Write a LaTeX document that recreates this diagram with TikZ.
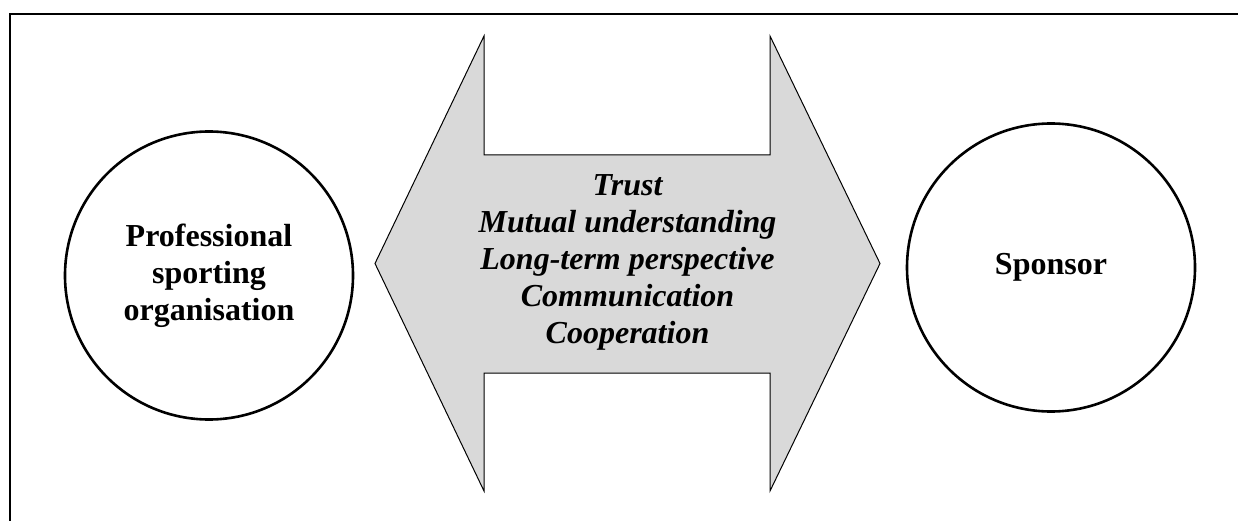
\documentclass[tikz,border=0pt]{standalone}
\usepackage{fontspec}
\setmainfont{Liberation Serif}
\usetikzlibrary{calc}

\begin{document}
\begin{tikzpicture}[x=1pt, y=-1pt,
        party/.style={draw, circle, line width=2.6pt, minimum size=288pt, inner sep=0pt, align=center,
            font=\fontsize{32}{37}\selectfont\bfseries},
        value_arrow/.style={draw, line width=1pt, line join=miter, fill=gray!30},
        value_text/.style={align=center, font=\fontsize{32}{36.8}\selectfont\bfseries\itshape}]

        \useasboundingbox (0,0) rectangle (1238,521);

        % Outer frame (only top and left edges are visible)
        \draw[line width=1.3pt] (10,521) -- (10,14) -- (1238,14);

        % Double arrow between the two parties
        \coordinate (mid) at (627.5,263.5);
        \coordinate (tip_l) at ($(mid)+(-252.5,0)$);
        \coordinate (tip_r) at ($(mid)+(252.5,0)$);
        \draw[value_arrow] (tip_l) -- ++(109,-227.5) -- ++(0,119) -- ++(286,0) -- ++(0,-119)
            -- (tip_r) -- ++(-110,227.5) -- ++(0,-118) -- ++(-286,0) -- ++(0,118) -- cycle;
        \node[value_text] (values) at ($(mid)+(0,-1)$) {Trust\\Mutual understanding\\Long-term perspective\\Communication\\Cooperation};

        % The two parties
        \node[party] (club) at (209,275.5) {Professional\\sporting\\organisation};
        \node[party] (sponsor) at (1051,267.5) {Sponsor};
    \end{tikzpicture}
\end{document}
